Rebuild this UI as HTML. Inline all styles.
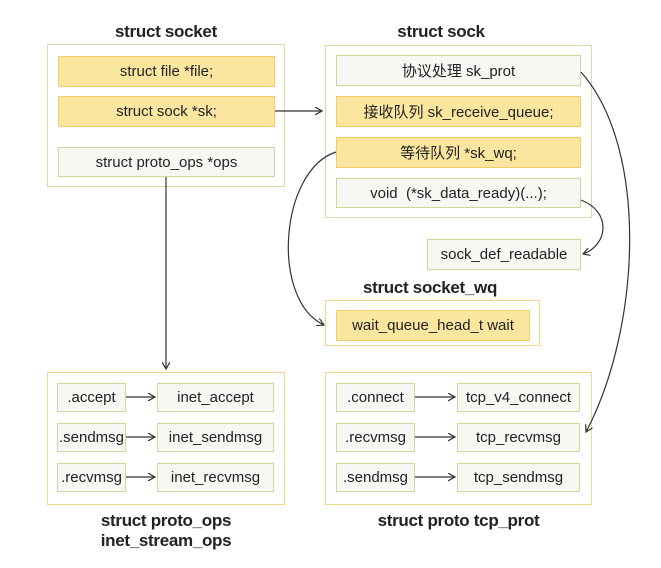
<!DOCTYPE html>
<html><head><meta charset="utf-8"><style>
body{margin:0;width:661px;height:568px;background:#fff;position:relative;overflow:hidden;font-family:"Liberation Sans","Noto Sans CJK SC",sans-serif;color:#222}
.b{position:absolute;box-sizing:border-box}
.o{border:1.5px solid #cfe0a8;background:#fff}
.oy{border:1.5px solid #f0d88a;background:#fff}
.y{background:#fbe6a0;border:1.5px solid #f2cc6a;display:flex;align-items:center;justify-content:center;font-size:15px}
.g{background:#f7f8f4;border:1.5px solid #c5dc9a;display:flex;align-items:center;justify-content:center;font-size:15px}
.t{position:absolute;font-weight:bold;font-size:17px;text-align:center;letter-spacing:-0.3px}
</style></head><body>
<div class="t" style="left:47px;width:238px;top:22px">struct socket</div>
<div class="t" style="left:325px;width:232px;top:22px">struct sock</div>
<div class="t" style="left:340px;width:180px;top:278px">struct socket_wq</div>
<div class="t" style="left:47px;width:238px;top:511px;line-height:20px">struct proto_ops<br>inet_stream_ops</div>
<div class="t" style="left:325px;width:267px;top:511px">struct proto tcp_prot</div>

<div class="b o" style="left:47px;top:44px;width:238px;height:143px"></div>
<div class="b y" style="left:58px;top:56px;width:217px;height:31px">struct file *file;</div>
<div class="b y" style="left:58px;top:96px;width:217px;height:31px">struct sock *sk;</div>
<div class="b g" style="left:58px;top:147px;width:217px;height:30px">struct proto_ops *ops</div>

<div class="b o" style="left:325px;top:45px;width:267px;height:173px"></div>
<div class="b g" style="left:336px;top:55px;width:245px;height:31px">协议处理 sk_prot</div>
<div class="b y" style="left:336px;top:96px;width:245px;height:31px">接收队列 sk_receive_queue;</div>
<div class="b y" style="left:336px;top:137px;width:245px;height:31px">等待队列 *sk_wq;</div>
<div class="b g" style="left:336px;top:178px;width:245px;height:30px">void&nbsp; (*sk_data_ready)(...);</div>
<div class="b g" style="left:427px;top:239px;width:154px;height:31px;font-size:15px">sock_def_readable</div>

<div class="b oy" style="left:325px;top:300px;width:215px;height:46px"></div>
<div class="b y" style="left:336px;top:310px;width:194px;height:31px">wait_queue_head_t wait</div>

<div class="b oy" style="left:47px;top:372px;width:238px;height:133px"></div>
<div class="b g" style="left:57px;top:383px;width:69px;height:29px;font-size:15px">.accept</div>
<div class="b g" style="left:157px;top:383px;width:117px;height:29px;font-size:15px">inet_accept</div>
<div class="b g" style="left:57px;top:423px;width:69px;height:29px;font-size:15px">.sendmsg</div>
<div class="b g" style="left:157px;top:423px;width:117px;height:29px;font-size:15px">inet_sendmsg</div>
<div class="b g" style="left:57px;top:463px;width:69px;height:29px;font-size:15px">.recvmsg</div>
<div class="b g" style="left:157px;top:463px;width:117px;height:29px;font-size:15px">inet_recvmsg</div>

<div class="b oy" style="left:325px;top:372px;width:267px;height:133px"></div>
<div class="b g" style="left:336px;top:383px;width:79px;height:29px;font-size:15px">.connect</div>
<div class="b g" style="left:457px;top:383px;width:123px;height:29px;font-size:15px">tcp_v4_connect</div>
<div class="b g" style="left:336px;top:423px;width:79px;height:29px;font-size:15px">.recvmsg</div>
<div class="b g" style="left:457px;top:423px;width:123px;height:29px;font-size:15px">tcp_recvmsg</div>
<div class="b g" style="left:336px;top:463px;width:79px;height:29px;font-size:15px">.sendmsg</div>
<div class="b g" style="left:457px;top:463px;width:123px;height:29px;font-size:15px">tcp_sendmsg</div>

<svg width="661" height="568" style="position:absolute;left:0;top:0" fill="none" stroke="#333" stroke-width="1.2">
<defs><marker id="a" markerWidth="8" markerHeight="8" refX="7" refY="4" orient="auto" markerUnits="userSpaceOnUse"><path d="M0,0 L7,4 L0,8" fill="none" stroke="#333" stroke-width="1.2"/></marker></defs>
<path d="M275,111 H322" marker-end="url(#a)"/>
<path d="M166,177 V369" marker-end="url(#a)"/>
<path d="M126,397 H155" marker-end="url(#a)"/>
<path d="M126,437 H155" marker-end="url(#a)"/>
<path d="M126,477 H155" marker-end="url(#a)"/>
<path d="M415,397 H455" marker-end="url(#a)"/>
<path d="M415,437 H455" marker-end="url(#a)"/>
<path d="M415,477 H455" marker-end="url(#a)"/>
<path d="M336,152 C280,170 270,300 324,325" marker-end="url(#a)"/>
<path d="M581,72 C650,150 640,330 586,432" marker-end="url(#a)"/>
<path d="M581,200 C612,212 608,245 583,254" marker-end="url(#a)"/>
</svg>
</body></html>
